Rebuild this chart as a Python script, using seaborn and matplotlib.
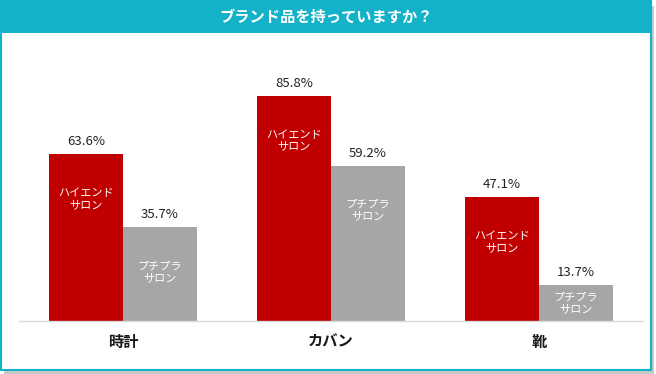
import pandas as pd
import numpy as np
import matplotlib.pyplot as plt
import seaborn as sns
from matplotlib.patches import Rectangle

# データ
カテゴリ = ['時計', 'カバン', '靴']
サロン = ['ハイエンド\nサロン', 'プチプラ\nサロン']
ハイエンド = [63.6, 85.8, 47.1]
プチプラ = [35.7, 59.2, 13.7]
タイトル = 'ブランド品を持っていますか？'

df = pd.DataFrame({
    'カテゴリ': カテゴリ * 2,
    'サロン': [サロン[0]] * 3 + [サロン[1]] * 3,
    '割合': ハイエンド + プチプラ,
})

sns.set_style("white")
plt.rcParams['font.family'] = ['Noto Sans CJK JP', 'DejaVu Sans']

赤 = '#C00000'
灰 = '#A6A6A6'
青緑 = '#13B2C8'

fig = plt.figure(figsize=(6.56, 3.74), dpi=100)
W, H = 656, 374

# 影と枠
fig.patches.append(Rectangle((4 / W, 0), 650 / W, 1 - 6 / H, transform=fig.transFigure,
                             facecolor='#C8C8C8', edgecolor='none', zorder=-3))
fig.patches.append(Rectangle((1 / W, 1 - 370 / H), 650 / W, 369 / H, transform=fig.transFigure,
                             facecolor='white', edgecolor=青緑, linewidth=1.5, zorder=-2))
# タイトルバー
fig.patches.append(Rectangle((1 / W, 1 - 33 / H), 650 / W, 32 / H, transform=fig.transFigure,
                             facecolor=青緑, edgecolor='none', zorder=-1))
fig.text(326 / W, 1 - 17 / H, タイトル, color='white', fontsize=11, fontweight='bold',
         ha='center', va='center', zorder=3)

ax = fig.add_axes([19 / W, 1 - 321 / H, 624 / W, 281 / H])
ax.set_zorder(5)
ax.patch.set_alpha(0)
sns.barplot(data=df, x='カテゴリ', y='割合', hue='サロン', palette=[赤, 灰],
            width=0.712, dodge=True, legend=False, ax=ax, saturation=1,
            linewidth=0, edgecolor='none')

ax.set_xlim(-0.5, 2.5)
ax.set_ylim(0, 107)
ax.set_xlabel('')
ax.set_ylabel('')
ax.set_yticks([])
for s in ['top', 'right', 'left']:
    ax.spines[s].set_visible(False)
ax.spines['bottom'].set_color('#D9D9D9')
ax.spines['bottom'].set_linewidth(1)
ax.tick_params(axis='x', length=0, pad=9)
for lbl in ax.get_xticklabels():
    lbl.set_fontsize(11)
    lbl.set_fontweight('bold')
    lbl.set_color('#1A1A1A')

# ラベル
for container, name in zip(ax.containers, サロン):
    for bar in container:
        v = bar.get_height()
        x = bar.get_x() + bar.get_width() / 2
        ax.annotate(f'{v:.1f}%', (x, v), xytext=(0, 9), textcoords='offset points',
                    ha='center', va='center', fontsize=9.5, color='#222222')
        y_in = max(v - 17.1, v / 2)
        ax.text(x, y_in, name, ha='center', va='center', fontsize=8,
                color='white', linespacing=1.2)

fig.savefig('out.png', dpi=100)
